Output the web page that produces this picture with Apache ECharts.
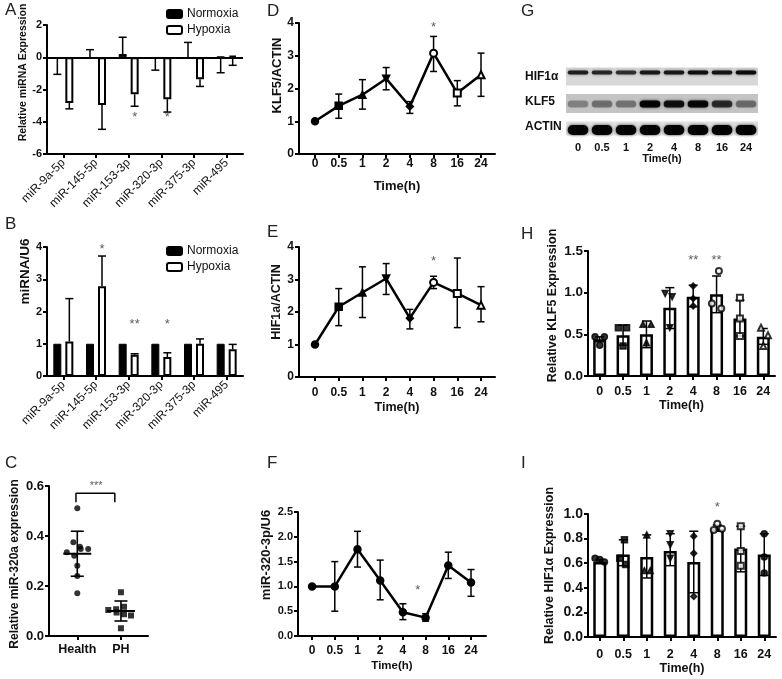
<!DOCTYPE html>
<html><head><meta charset="utf-8">
<script src="https://cdn.jsdelivr.net/npm/echarts@6/dist/echarts.min.js"></script>
<style>html,body{margin:0;padding:0;background:#fff}#c{width:782px;height:679px}</style>
</head><body><div id="c"></div>
<script>
// ================= DATA =================
// Panel A
const miRNAs = ['miR-9a-5p','miR-145-5p','miR-153-3p','miR-320-3p','miR-375-3p','miR-495'];
const aNormoxia    = [-0.03, -0.08, 0.2, -0.03, -0.08, 0.03];
const aNormoxiaErr = [-1.06, 0.47, 1.24, -0.8, 0.92, -0.96];
const aHypoxia     = [-2.84, -2.96, -2.3, -2.6, -1.37, 0.08];
const aHypoxiaErr  = [-3.2, -4.47, -3.04, -3.4, -1.81, -0.5];
const aStars = [[2, -3.75, '*'], [3, -3.75, '*']];
// Panel B
const bNormoxia    = [1, 1, 1, 1, 1, 1];
const bHypoxia     = [1.07, 2.78, 0.66, 0.59, 1.0, 0.83];
const bHypoxiaErr  = [2.4, 3.72, 0.69, 0.72, 1.15, 0.98];
const bStars = [[1, 3.92, '*'], [2, 1.6, '**'], [3, 1.6, '*']];
// Panel C
const groupsC = ['Health', 'PH'];
const cHealth    = [0.511, 0.375, 0.357, 0.348, 0.348, 0.335, 0.321, 0.281, 0.24, 0.171];
const cHealthJit = [0, -0.09, 0.06, 0.08, 0.25, -0.24, -0.07, 0, 0, 0];
const cPH        = [0.175, 0.104, 0.107, 0.117, 0.094, 0.087, 0.082, 0.031];
const cPHJit     = [0, -0.29, -0.11, 0.07, -0.1, 0.07, 0.23, 0];
const cMean = [0.329, 0.1];
const cSD   = [0.09, 0.04];
const cBracketX = [-0.03, 0.86];
const cBracketY = [0.535, 0.571];
const cStar = [0.43, 0.6, '***'];
// Time course
const timeLabels = ['0', '0.5', '1', '2', '4', '8', '16', '24'];
// Panel D
const dKLF5   = [1.0, 1.47, 1.81, 2.3, 1.45, 3.08, 1.86, 2.42];
const dKLF5Lo = [1.0, 1.09, 1.37, 1.96, 1.24, 2.52, 1.47, 1.76];
const dKLF5Hi = [1.0, 1.83, 2.27, 2.64, 1.6, 3.59, 2.24, 3.08];
const dStar = [5, 3.85, '*'];
// Panel E
const eHIF   = [1.0, 2.16, 2.6, 3.03, 1.81, 2.91, 2.57, 2.21];
const eHIFLo = [1.0, 1.58, 1.83, 2.54, 1.48, 2.72, 1.52, 1.7];
const eHIFHi = [1.0, 2.72, 3.39, 3.49, 2.08, 3.1, 3.66, 2.78];
const eStar = [5, 3.55, '*'];
// Panel F
const fMiR   = [1.0, 1.0, 1.75, 1.12, 0.48, 0.37, 1.42, 1.08];
const fMiRLo = [1.0, 0.5, 1.39, 0.73, 0.33, 0.3, 1.16, 0.8];
const fMiRHi = [1.0, 1.5, 2.11, 1.53, 0.65, 0.45, 1.69, 1.34];
const fStar = [4.66, 0.92, '*'];
// Panel G (western blot band intensities)
const blotRows  = ['HIF1α', 'KLF5', 'ACTIN'];
const blotHIF1a = [0.78, 0.74, 0.7, 0.82, 0.82, 0.88, 0.84, 0.9];
const blotKLF5  = [0.3, 0.38, 0.36, 0.95, 0.85, 0.92, 0.7, 0.4];
const blotACTIN = [0.95, 0.95, 0.95, 0.95, 0.95, 0.97, 0.97, 1.0];
// Panel H
const hKLF5   = [0.44, 0.49, 0.5, 0.82, 0.95, 0.98, 0.69, 0.47];
const hKLF5Lo = [0.41, 0.37, 0.34, 0.57, 0.83, 0.76, 0.48, 0.38];
const hKLF5Hi = [0.47, 0.61, 0.66, 1.06, 1.09, 1.2, 0.91, 0.57];
const hPts = [[0.47,0.47,0.37],[0.58,0.58,0.36],[0.62,0.62,0.4],[0.99,0.95,0.58],[1.08,0.93,0.84],[1.26,0.87,0.81],[0.94,0.69,0.48],[0.58,0.49,0.36]];
const hJit = [[-0.2,0.2,0],[-0.2,0.15,0],[-0.15,0.2,0],[-0.2,0.1,0],[0,0,0],[0.1,-0.2,0.2],[0,0,0],[-0.1,0.2,0]];
const hStars = [[4, 1.39, '**'], [5, 1.39, '**']];
// Panel I
const iHIF   = [0.61, 0.67, 0.65, 0.7, 0.61, 0.88, 0.72, 0.67];
const iHIFLo = [0.6, 0.58, 0.48, 0.58, 0.36, 0.86, 0.53, 0.5];
const iHIFHi = [0.63, 0.79, 0.83, 0.84, 0.86, 0.91, 0.9, 0.84];
const iPts = [[0.64,0.63,0.61],[0.79,0.64,0.59],[0.83,0.54,0.54],[0.84,0.75,0.64],[0.82,0.68,0.33],[0.92,0.88,0.87],[0.9,0.7,0.58],[0.84,0.65,0.52]];
const iJit = [[-0.2,0,0.2],[0.05,-0.15,0.1],[0,-0.1,0.15],[0,0,0],[0,0,0],[0,0.2,-0.15],[0,0,0],[0,0,0]];
const iStars = [[5, 1.05, '*']];

// ================= STYLE =================
const F = "'Liberation Sans', Arial, Helvetica, sans-serif";
const K = '#111';
const TRI_DOWN = 'path://M0,0L10,0L5,9Z';
const symDE = ['circle','rect','triangle',TRI_DOWN,'diamond','emptyCircle','emptyRect','emptyTriangle'];
const symH  = ['circle','rect','triangle',TRI_DOWN,'diamond','emptyCircle','emptyRect','emptyTriangle'];
const symI  = ['circle','rect','triangle',TRI_DOWN,'diamond','emptyCircle','emptyRect','circle'];
const stripH = [18, 19, 14], stripOff = [0, 2, 2], stripFill = ['#d8d8d8', '#c4c4c4', '#e0e0e0'];
const bandH = [4, 7, 10], bandOff = [-4, 0.5, 1.5];

const lineSt = {color:'#000', width:2};
function yAx(o) {
  const up = o.up || 0;
  const pad = up >= 0 ? [0,0,0,2*up] : [0,-2*up,0,0];
  return {type:'value', gridIndex:o.grid, min:o.min, max:o.max, interval:o.interval,
    name:o.name, nameLocation:'middle', nameGap:o.gap,
    nameTextStyle:{fontFamily:F, fontWeight:'bold', fontSize:o.nfs, color:K, padding:pad},
    axisLine:{show:true, onZero:false, lineStyle:lineSt},
    axisTick:{show:true, length:4, lineStyle:lineSt},
    axisLabel:{fontFamily:F, fontWeight:'bold', fontSize:o.fs, color:K, margin:5,
      formatter: v => o.dec ? v.toFixed(o.dec) : String(Math.round(v))},
    splitLine:{show:false}};
}
function xValAx(o) {
  const vals = o.labels.map((_, i) => i);
  return {type:'value', gridIndex:o.grid, min:o.min, max:o.max,
    name:o.name || '', nameLocation:'middle', nameGap:o.gap || 20,
    nameTextStyle:{fontFamily:F, fontWeight:'bold', fontSize:o.nfs || 12, color:K},
    axisLine:{show:true, onZero:false, lineStyle:lineSt},
    axisTick:{show:true, length:4, customValues:vals, lineStyle:lineSt},
    axisLabel:{customValues:vals, formatter: v => o.labels[Math.round(v)],
      fontFamily:F, fontWeight:'bold', fontSize:o.fs, color:K, margin:o.margin},
    splitLine:{show:false}};
}
function xCatAx(o) {
  return {type:'category', gridIndex:o.grid, data:o.data,
    name:o.name || '', nameLocation:'middle', nameGap:o.gap || 20,
    nameTextStyle:{fontFamily:F, fontWeight:'bold', fontSize:o.nfs || 12, color:K},
    axisLine:{show:true, onZero:false, lineStyle:lineSt},
    axisTick:{show:true, alignWithLabel:true, length:4, lineStyle:lineSt},
    axisLabel:{interval:0, rotate:o.rotate || 0, fontFamily:F, fontWeight:o.bold ? 'bold' : 'normal',
      fontSize:o.fs, color:K, margin:o.margin},
    splitLine:{show:false}};
}
function hiddenX(grid) { return {type:'value', gridIndex:grid, min:-0.5, max:7.5, show:false}; }

function errSeries(xi, yi, data, off, cap, both, lw) {
  return {type:'custom', xAxisIndex:xi, yAxisIndex:yi, data:data, z:3, silent:true,
    renderItem:(params, api) => {
      const x = api.value(0);
      const a = api.coord([x, api.value(1)]), b = api.coord([x, api.value(2)]);
      const cx = a[0] + off;
      const st = {stroke:'#000', lineWidth:lw || 1.5};
      const ch = [
        {type:'line', shape:{x1:cx, y1:a[1], x2:cx, y2:b[1]}, style:st},
        {type:'line', shape:{x1:cx-cap/2, y1:b[1], x2:cx+cap/2, y2:b[1]}, style:st}];
      if (both) ch.push({type:'line', shape:{x1:cx-cap/2, y1:a[1], x2:cx+cap/2, y2:a[1]}, style:st});
      return {type:'group', children:ch};
    }};
}
function starSeries(xi, yi, list, offX, fs) {
  return {type:'scatter', xAxisIndex:xi, yAxisIndex:yi, symbolSize:1, silent:true, z:6, clip:false,
    itemStyle:{color:'rgba(0,0,0,0)'},
    data:list.map(d => ({value:[d[0], d[1]], t:d[2]})),
    label:{show:true, position:'inside', offset:[offX || 0, 0], fontFamily:F, fontSize:fs || 13, color:'#333',
      formatter: p => p.data.t}};
}

// ================= GRIDS =================
const G = (l, t, w, h) => ({left:l, top:t, width:w, height:h, containLabel:false, outerBoundsMode:'none'});
const grid = [
  G(47, 25, 196, 129),   // A
  G(47, 247, 196, 129),  // B
  G(49, 486, 99, 150),   // C
  G(299, 23, 196, 131),  // D
  G(299, 247, 196, 130), // E
  G(298, 512, 188, 124), // F
  G(566, 64, 192, 75),   // G
  G(588, 251, 187, 125), // H
  G(588, 514, 188, 123)  // I
];

const xAxis = [
  xCatAx({grid:0, data:miRNAs, rotate:45, fs:12, margin:7}),                                  //0 A
  xCatAx({grid:1, data:miRNAs, rotate:45, fs:12, margin:7}),                                  //1 B
  xValAx({grid:2, min:-0.648, max:1.62, labels:groupsC, fs:12.5, margin:7}),                 //2 C
  xValAx({grid:3, min:-0.675, max:7.59, labels:timeLabels, fs:12, margin:4, name:'Time(h)', gap:26, nfs:13}), //3 D
  xValAx({grid:4, min:-0.675, max:7.59, labels:timeLabels, fs:12, margin:10, name:'Time(h)', gap:24, nfs:12.5}), //4 E
  xValAx({grid:5, min:-0.62, max:7.66, labels:timeLabels, fs:12, margin:9, name:'Time(h)', gap:24, nfs:11.5}),  //5 F
  {type:'category', gridIndex:6, data:timeLabels, axisLine:{show:false}, axisTick:{show:false},
    axisLabel:{fontFamily:F, fontWeight:'bold', fontSize:11, color:K, margin:3},
    name:'Time(h)', nameLocation:'middle', nameGap:14,
    nameTextStyle:{fontFamily:F, fontWeight:'bold', fontSize:11, color:K}},                 //6 G
  xCatAx({grid:7, data:timeLabels, fs:12.5, bold:true, margin:9, name:'Time(h)', gap:22, nfs:12.5}), //7 H
  hiddenX(7),                                                                                  //8 H pts
  xCatAx({grid:8, data:timeLabels, fs:12.5, bold:true, margin:11, name:'Time(h)', gap:25, nfs:12.5}), //9 I
  hiddenX(8)                                                                                   //10 I pts
];

const yAxis = [
  yAx({grid:0, min:-6, max:2, interval:2, name:'Relative miRNA Expression', gap:17, up:17, fs:11, nfs:10.5}),
  yAx({grid:1, min:0, max:4, interval:1, name:'miRNA/U6', gap:14, up:40, fs:11, nfs:13.5}),
  yAx({grid:2, min:0, max:0.6, interval:0.2, name:'Relative miR-320a expression', gap:28, up:-3, fs:13, nfs:12, dec:1}),
  yAx({grid:3, min:0, max:4, interval:1, name:'KLF5/ACTIN', gap:15, up:13, fs:12, nfs:13}),
  yAx({grid:4, min:0, max:4, interval:1, name:'HIF1a/ACTIN', gap:16, up:10, fs:12, nfs:12.5}),
  yAx({grid:5, min:0, max:2.5, interval:0.5, name:'miR-320-3p/U6', gap:25, up:19, fs:11, nfs:13, dec:1}),
  {type:'category', gridIndex:6, data:blotRows, inverse:true, axisLine:{show:false}, axisTick:{show:false},
    axisLabel:{fontFamily:F, fontWeight:'bold', fontSize:12, color:K, align:'left', margin:41, padding:[7,0,0,0]}},
  yAx({grid:7, min:0, max:1.5, interval:0.5, name:'Relative KLF5 Expression', gap:29, up:8, fs:13.5, nfs:12.5, dec:1}),
  yAx({grid:8, min:0, max:1.0, interval:0.2, name:'Relative HIF1α Expression', gap:32, up:10, fs:14, nfs:12.5, dec:1})
];

// ================= SERIES =================
const series = [];
const BW = 8, OFF = 6;
// A
series.push({type:'bar', name:'Normoxia', xAxisIndex:0, yAxisIndex:0, data:aNormoxia, barWidth:BW, barGap:'50%',
  itemStyle:{color:'#000', borderColor:'#000', borderWidth:1}});
series.push({type:'bar', name:'Hypoxia', xAxisIndex:0, yAxisIndex:0, data:aHypoxia, barWidth:BW, barGap:'50%',
  itemStyle:{color:'#fff', borderColor:'#000', borderWidth:2},
  markLine:{silent:true, symbol:'none', label:{show:false}, animation:false,
    lineStyle:{color:'#000', width:2, type:'solid'}, data:[{yAxis:0}]}});
series.push(errSeries(0, 0, aNormoxia.map((v,i) => [i, v, aNormoxiaErr[i]]), -OFF, 8, false));
series.push(errSeries(0, 0, aHypoxia.map((v,i) => [i, v, aHypoxiaErr[i]]), OFF, 8, false));
series.push(starSeries(0, 0, aStars, OFF));
// B
series.push({type:'bar', name:'Normoxia', xAxisIndex:1, yAxisIndex:1, data:bNormoxia, barWidth:BW, barGap:'50%',
  itemStyle:{color:'#000', borderColor:'#000', borderWidth:1}});
series.push({type:'bar', name:'Hypoxia', xAxisIndex:1, yAxisIndex:1, data:bHypoxia, barWidth:BW, barGap:'50%',
  itemStyle:{color:'#fff', borderColor:'#000', borderWidth:2}});
series.push(errSeries(1, 1, bHypoxia.map((v,i) => [i, v, bHypoxiaErr[i]]), OFF, 8, false));
series.push(starSeries(1, 1, bStars, OFF));
// C
series.push({type:'scatter', xAxisIndex:2, yAxisIndex:2, symbol:'circle', symbolSize:6, itemStyle:{color:'#000'}, z:4,
  data:cHealth.map((v,i) => [0 + cHealthJit[i], v])});
series.push({type:'scatter', xAxisIndex:2, yAxisIndex:2, symbol:'rect', symbolSize:6, itemStyle:{color:'#000'}, z:4,
  data:cPH.map((v,i) => [1 + cPHJit[i], v])});
series.push({type:'custom', xAxisIndex:2, yAxisIndex:2, silent:true, z:5,
  data:cMean.map((m,i) => [i, m, m - cSD[i], m + cSD[i]]),
  renderItem:(params, api) => {
    const x = api.value(0);
    const m = api.coord([x, api.value(1)]), lo = api.coord([x, api.value(2)]), hi = api.coord([x, api.value(3)]);
    const st = {stroke:'#000', lineWidth:1.6};
    return {type:'group', children:[
      {type:'line', shape:{x1:m[0]-14, y1:m[1], x2:m[0]+14, y2:m[1]}, style:{stroke:'#000', lineWidth:2}},
      {type:'line', shape:{x1:lo[0], y1:lo[1], x2:hi[0], y2:hi[1]}, style:st},
      {type:'line', shape:{x1:lo[0]-6.5, y1:lo[1], x2:lo[0]+6.5, y2:lo[1]}, style:st},
      {type:'line', shape:{x1:hi[0]-6.5, y1:hi[1], x2:hi[0]+6.5, y2:hi[1]}, style:st}]};
  }});
series.push({type:'line', xAxisIndex:2, yAxisIndex:2, symbol:'none', silent:true,
  lineStyle:{color:'#000', width:1.5},
  data:[[cBracketX[0], cBracketY[0]], [cBracketX[0], cBracketY[1]], [cBracketX[1], cBracketY[1]], [cBracketX[1], cBracketY[0]]]});
series.push(starSeries(2, 2, [cStar], 0, 11));
// D, E, F
function lineSeries(xi, yi, vals, syms) {
  return {type:'line', xAxisIndex:xi, yAxisIndex:yi, z:4, symbolSize:7,
    lineStyle:{color:'#000', width:2.5}, itemStyle:{color:'#000', borderColor:'#000', borderWidth:1.5},
    data:vals.map((v,i) => ({value:[i, v], symbol:syms[i]}))};
}
series.push(errSeries(3, 3, dKLF5.map((v,i) => [i, dKLF5Lo[i], dKLF5Hi[i]]), 0, 7, true));
series.push(lineSeries(3, 3, dKLF5, symDE));
series.push(starSeries(3, 3, [dStar], 0));
series.push(errSeries(4, 4, eHIF.map((v,i) => [i, eHIFLo[i], eHIFHi[i]]), 0, 7, true));
series.push(lineSeries(4, 4, eHIF, symDE));
series.push(starSeries(4, 4, [eStar], 0));
series.push(errSeries(5, 5, fMiR.map((v,i) => [i, fMiRLo[i], fMiRHi[i]]), 0, 7, true));
series.push(lineSeries(5, 5, fMiR, timeLabels.map(() => 'circle')));
series.push(starSeries(5, 5, [fStar], 0));
// G blot
series.push({type:'custom', xAxisIndex:6, yAxisIndex:6, silent:true, z:1,
  data:blotRows.map((r,j) => [0, j]),
  renderItem:(params, api) => {
    const j = api.value(1);
    const c = api.coord([0, j]);
    const cs = params.coordSys;
    const h = stripH[j];
    return {type:'rect', shape:{x:cs.x, y:c[1] + stripOff[j] - h/2, width:cs.width, height:h},
      style:{fill:stripFill[j]}};
  }});
const blotData = [];
[blotHIF1a, blotKLF5, blotACTIN].forEach((row, j) => row.forEach((v, i) => blotData.push([i, j, v])));
series.push({type:'custom', xAxisIndex:6, yAxisIndex:6, silent:true, z:2, data:blotData,
  renderItem:(params, api) => {
    const i = api.value(0), j = api.value(1), v = api.value(2);
    const c = api.coord([i, j]);
    const lw = api.size([1, 0])[0];
    const w = lw * 0.86, h = bandH[j];
    return {type:'rect', shape:{x:c[0] - w/2, y:c[1] + stripOff[j] + bandOff[j] - h/2, width:w, height:h, r:h/2},
      style:{fill:'rgba(0,0,0,' + v + ')', shadowBlur:3, shadowColor:'rgba(0,0,0,' + (v*0.8) + ')'}};
  }});
// H, I
function barBox(xi, yi, vals) {
  return {type:'bar', xAxisIndex:xi, yAxisIndex:yi, data:vals, barWidth:13, z:2,
    itemStyle:{color:'#fff', borderColor:'#000', borderWidth:2.5}};
}
function ptsSeries(xi, yi, pts, jit, syms) {
  const d = [];
  pts.forEach((g, i) => g.forEach((v, k) => d.push({value:[i + jit[i][k], v], symbol:syms[i]})));
  return {type:'scatter', xAxisIndex:xi, yAxisIndex:yi, z:5, symbolSize:6,
    itemStyle:{color:'#000', borderColor:'#000', borderWidth:1.5}, data:d};
}
series.push(barBox(7, 7, hKLF5));
series.push(errSeries(7, 7, hKLF5.map((v,i) => [i, hKLF5Lo[i], hKLF5Hi[i]]), 0, 9, true));
series.push(ptsSeries(8, 7, hPts, hJit, symH));
series.push(starSeries(7, 7, hStars, 0));
series.push(barBox(9, 8, iHIF));
series.push(errSeries(9, 8, iHIF.map((v,i) => [i, iHIFLo[i], iHIFHi[i]]), 0, 9, true));
series.push(ptsSeries(10, 8, iPts, iJit, symI));
series.push(starSeries(9, 8, iStars, 0));

// ================= TITLES / LEGENDS =================
const letters = [['A',5,2],['B',5,216],['C',5,455],['D',267,3],['E',267,224],['F',267,455],['G',521,3],['H',521,226],['I',521,455]];
const title = letters.map(l => ({text:l[0], left:l[1], top:l[2], padding:0,
  textStyle:{fontFamily:F, fontSize:17, fontWeight:'normal', color:'#222'}}));
const legStyle = {orient:'vertical', data:['Normoxia','Hypoxia'], itemWidth:15, itemHeight:8, itemGap:4,
  icon:'roundRect', selectedMode:false, padding:0, textStyle:{fontFamily:F, fontSize:12, color:K}};
const legend = [Object.assign({left:166, top:8}, legStyle), Object.assign({left:166, top:245}, legStyle)];

const chart = echarts.init(document.getElementById('c'), null, {renderer:'canvas'});
chart.setOption({
  animation:false, backgroundColor:'#fff',
  textStyle:{fontFamily:F},
  title, legend, grid, xAxis, yAxis, series
});
</script></body></html>
